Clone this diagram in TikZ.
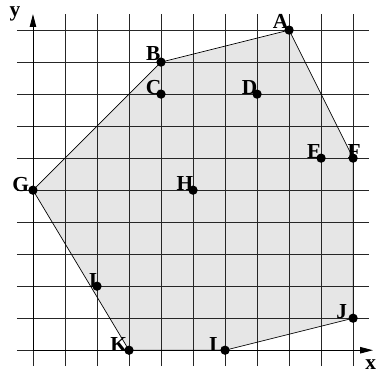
\documentclass[tikz,border=0pt]{standalone}
\usepackage{fontspec}
\setmainfont{Liberation Serif}
\usetikzlibrary{arrows.meta}
\definecolor{fillgray}{HTML}{E6E6E6}
\tikzset{
  gridline/.style={line width=0.7pt, black!85},
  edge/.style={line width=0.6pt, black},
  axisline/.style={line width=0.8pt, black, -{Triangle[length=4mm,width=2mm]}},
  dot/.style={circle, fill=black, inner sep=0pt, minimum size=2.9mm},
  lbl/.style={font=\fontsize{19}{21}\selectfont\bfseries, inner sep=1pt}
}
\begin{document}
\begin{tikzpicture}
\useasboundingbox (-1.03,-0.75) rectangle (10.84,10.94);
\coordinate (A) at (8,10);
\coordinate (B) at (4,9);
\coordinate (C) at (4,8);
\coordinate (D) at (7,8);
\coordinate (E) at (9,6);
\coordinate (F) at (10,6);
\coordinate (G) at (0,5);
\coordinate (H) at (5,5);
\coordinate (I) at (2,2);
\coordinate (J) at (10,1);
\coordinate (K) at (3,0);
\coordinate (L) at (6,0);
\fill[fillgray] (A) -- (B) -- (G) -- (K) -- (L) -- (J) -- (F) -- cycle;
\foreach \i in {1,...,10} {
  \draw[gridline] (\i,-0.5) -- (\i,10.5);
}
\foreach \j in {1,...,10} {
  \draw[gridline] (-0.5,\j) -- (10.5,\j);
}
\draw[gridline] (0,-0.5) -- (0,0);
\draw[gridline] (-0.5,0) -- (0,0);
\coordinate (O) at (0,0);
\coordinate (Xend) at (10.62,0);
\coordinate (Yend) at (0,10.5);
\draw[axisline] (O) -- (Xend);
\draw[axisline] (O) -- (Yend);
\draw[edge] (A) -- (B) -- (G) -- (K) -- (L) -- (J) -- (F) -- cycle;
\foreach \p in {A,B,C,D,E,F,G,H,I,J,K,L} {
  \node[dot] (d\p) at (\p) {};
}
\node[lbl, anchor=south east] at ([xshift=0.02cm,yshift=0.02cm]A) {A};
\node[lbl, anchor=south east] at ([xshift=0.02cm,yshift=0.0cm]B) {B};
\node[lbl, anchor=south east] at ([xshift=0.05cm,yshift=-0.05cm]C) {C};
\node[lbl, anchor=south east] at ([xshift=0.05cm,yshift=-0.05cm]D) {D};
\node[lbl, anchor=south east] at ([xshift=0.05cm,yshift=-0.05cm]E) {E};
\node[lbl, anchor=south east] at ([xshift=0.28cm,yshift=-0.05cm]F) {F};
\node[lbl, anchor=south east] at ([xshift=-0.08cm,yshift=-0.08cm]G) {G};
\node[lbl, anchor=south east] at ([xshift=0.05cm,yshift=-0.05cm]H) {H};
\node[lbl, anchor=south east] at ([xshift=0.05cm,yshift=-0.08cm]I) {I};
\node[lbl, anchor=south east] at ([xshift=-0.15cm,yshift=-0.05cm]J) {J};
\node[lbl, anchor=south east] at ([xshift=-0.02cm,yshift=-0.08cm]K) {K};
\node[lbl, anchor=south east] at ([xshift=0.0cm,yshift=-0.08cm]L) {L};
\node[lbl] (xl) at (10.55,-0.44) {x};
\node[lbl] (yl) at (-0.56,10.52) {y};
\end{tikzpicture}
\end{document}
